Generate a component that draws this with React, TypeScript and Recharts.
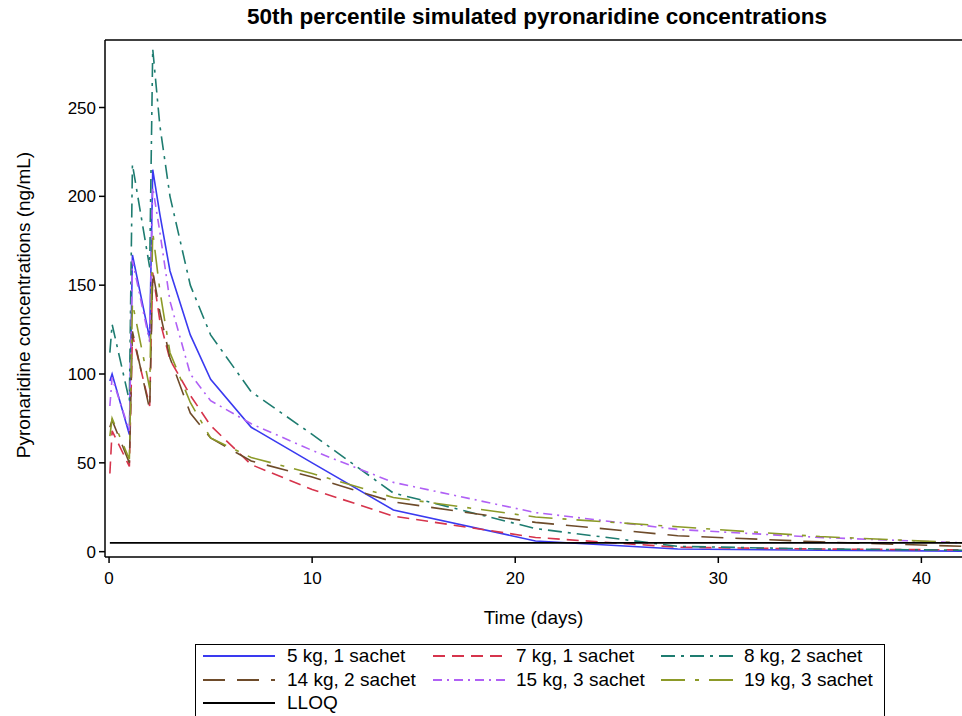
import React from "react";
import { LineChart, Line, XAxis, YAxis, ReferenceLine } from "recharts";

// time points (days) and median simulated concentrations (ng/mL)
const times = [0.04, 0.15, 1, 1.15, 2, 2.15, 2.5, 3, 4, 5, 7, 10, 14, 21, 28, 35, 42];
const kg5s1 = [96, 100, 66, 167, 120, 215, 190, 158, 122, 97, 70, 50, 23.5, 6, 1.5, 0.8, 0.3];
const kg7s1 = [44, 68, 48, 122, 82, 157, 130, 108, 88, 71, 49, 35, 20, 8, 2.5, 1.5, 1];
const kg8s2 = [112, 128, 85, 218, 160, 283, 240, 200, 150, 122, 90, 66, 33, 13, 3, 1.5, 0.8];
const kg14s2 = [70, 74, 50, 124, 80, 158, 135, 109, 78, 64, 51, 42, 28, 16.5, 9, 5.5, 3];
const kg15s3 = [82, 98, 68, 164, 118, 205, 180, 141, 100, 85, 72, 57, 39, 22, 12.5, 8, 5];
const kg19s3 = [65, 75, 52, 140, 92, 180, 147, 112, 84, 64, 53, 44, 30.5, 19.5, 14, 8.5, 5];
const lloqValue = 5;

const xTicks = [0, 10, 20, 30, 40];
const yTicks = [0, 50, 100, 150, 200, 250];

const series = [
  { key: "kg5s1", name: "5 kg, 1 sachet", color: "#3a3af0", dash: undefined },
  { key: "kg7s1", name: "7 kg, 1 sachet", color: "#d6344c", dash: "12 7" },
  { key: "kg8s2", name: "8 kg, 2 sachet", color: "#1e7c70", dash: "14 6 3 6" },
  { key: "kg14s2", name: "14 kg, 2 sachet", color: "#6e4b2a", dash: "22 12" },
  { key: "kg15s3", name: "15 kg, 3 sachet", color: "#b060f5", dash: "9 5 2 5" },
  { key: "kg19s3", name: "19 kg, 3 sachet", color: "#8c9a28", dash: "24 10 4 10" },
  { key: "lloq", name: "LLOQ", color: "#000000", dash: undefined },
];

const data = times.map((t, i) => ({
  t,
  kg5s1: kg5s1[i],
  kg7s1: kg7s1[i],
  kg8s2: kg8s2[i],
  kg14s2: kg14s2[i],
  kg15s3: kg15s3[i],
  kg19s3: kg19s3[i],
  lloq: lloqValue,
}));

const FONT = "'Liberation Sans', Arial, sans-serif";

// legend slot positions (page pixels)
const legendCols = [
  { line: 203, text: 287 },
  { line: 433, text: 516 },
  { line: 661, text: 744 },
];
const legendRows = [656, 680, 703];

function LegendBox() {
  return (
    <>
      <div
        style={{
          position: "absolute",
          left: 195,
          top: 644,
          width: 690,
          height: 90,
          border: "1.5px solid #000",
          boxSizing: "border-box",
        }}
      />
      <svg width={962} height={716} style={{ position: "absolute", left: 0, top: 0, pointerEvents: "none" }}>
        {series.map((s, i) => {
          const col = legendCols[i % 3];
          const y = legendRows[Math.floor(i / 3)];
          return (
            <line
              key={s.key}
              x1={col.line}
              x2={col.line + 72}
              y1={y}
              y2={y}
              stroke={s.color}
              strokeWidth={1.8}
              strokeDasharray={s.dash}
            />
          );
        })}
      </svg>
      {series.map((s, i) => {
        const col = legendCols[i % 3];
        const y = legendRows[Math.floor(i / 3)];
        return (
          <div
            key={s.key}
            style={{
              position: "absolute",
              left: col.text,
              top: y - 12,
              fontSize: 19,
              lineHeight: "24px",
              fontFamily: FONT,
              whiteSpace: "nowrap",
            }}
          >
            {s.name}
          </div>
        );
      })}
    </>
  );
}

export default function App() {
  return (
    <div style={{ position: "absolute", left: 0, top: 0, width: 962, height: 716, overflow: "hidden", background: "#fff", fontFamily: FONT }}>
      <div
        style={{
          position: "absolute",
          left: 105,
          width: 864,
          top: 4,
          textAlign: "center",
          fontWeight: "bold",
          fontSize: 22.5,
          fontFamily: FONT,
        }}
      >
        50th percentile simulated pyronaridine concentrations
      </div>
      <LineChart width={962} height={640} data={data} margin={{ top: 40, right: 0, bottom: 0, left: 0 }}>
        <XAxis
          dataKey="t"
          type="number"
          domain={[-0.2, 42]}
          ticks={xTicks}
          allowDataOverflow
          height={83}
          stroke="#000"
          strokeWidth={1.5}
          tickSize={6}
          tickMargin={9}
          tick={{ fill: "#000", fontSize: 17, fontFamily: FONT }}
          label={{ value: "Time (days)", position: "insideBottom", offset: 16, fill: "#000", fontSize: 19, fontFamily: FONT }}
        />
        <YAxis
          type="number"
          domain={[-3, 288]}
          ticks={yTicks}
          allowDataOverflow
          width={105}
          stroke="#000"
          strokeWidth={1.5}
          tickSize={6}
          tickMargin={3}
          tick={{ fill: "#000", fontSize: 17, fontFamily: FONT }}
          label={{
            content: () => (
              <text
                x={23}
                y={305}
                transform="rotate(-90 23 305)"
                textAnchor="middle"
                dominantBaseline="central"
                fill="#000"
                fontSize={19}
                fontFamily={FONT}
              >
                Pyronaridine concentrations (ng/mL)
              </text>
            ),
          }}
        />
        <ReferenceLine y={288} stroke="#000" strokeWidth={1.5} ifOverflow="visible" />
        {series.map((s) => (
          <Line
            key={s.key}
            type="linear"
            dataKey={s.key}
            name={s.name}
            stroke={s.color}
            strokeWidth={s.key === "lloq" ? 1.8 : 1.6}
            strokeDasharray={s.dash}
            dot={false}
            activeDot={false}
            isAnimationActive={false}
          />
        ))}
      </LineChart>
      <LegendBox />
    </div>
  );
}
